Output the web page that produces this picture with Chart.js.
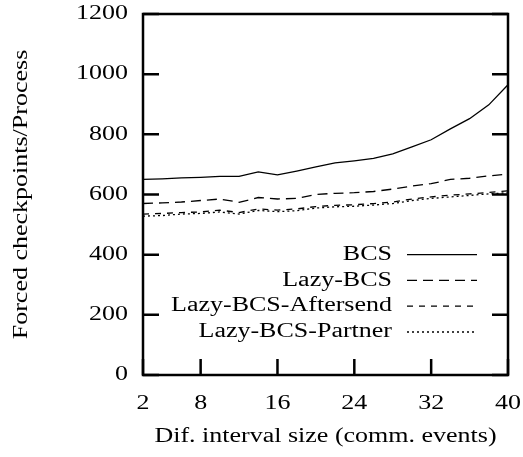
<!DOCTYPE html>
<html>
<head>
<meta charset="utf-8">
<script src="https://cdn.jsdelivr.net/npm/chart.js@4.4.1/dist/chart.umd.min.js"></script>
<style>
  html, body { margin: 0; padding: 0; background: #fff; }
  #wrap { width: 523px; height: 457px; }
</style>
</head>
<body>
<div id="wrap"><canvas id="c" width="523" height="457"></canvas></div>
<script>
// Interval sizes (communication events)
const intervals = [2, 4, 6, 8, 10, 12, 14, 16, 18, 20, 22, 24, 26, 28, 30, 32, 34, 36, 38, 40];
const xTickValues = [2, 8, 16, 24, 32, 40];
const yTickStep = 200;

// Forced checkpoints per process
const bcs       = [650, 652, 655, 657, 660, 660, 675, 665, 678, 692, 705, 712, 720, 735, 758, 782, 818, 852, 898, 965];
const lazyBcs   = [570, 572, 575, 580, 585, 574, 590, 585, 587, 600, 604, 606, 610, 618, 628, 636, 650, 654, 662, 668];
const aftersend = [535, 537, 540, 542, 548, 540, 552, 548, 552, 560, 564, 566, 570, 575, 585, 592, 598, 602, 607, 612];
const partner   = [528, 530, 535, 537, 542, 535, 547, 543, 546, 555, 559, 561, 565, 570, 580, 587, 592, 597, 602, 606];

const seriesNames = ['BCS', 'Lazy-BCS', 'Lazy-BCS-Aftersend', 'Lazy-BCS-Partner'];
const seriesValues = [bcs, lazyBcs, aftersend, partner];
const seriesDash = [[], [10, 6], [6, 6], [2, 3]];

const FONT = "'Liberation Serif', 'Times New Roman', serif";
const TEXT_STRETCH = 1.3;

// Wide serif lettering: every label is drawn horizontally stretched around its anchor.
const wideText = {
  id: 'wideText',
  beforeInit(chart) {
    const ctx = chart.ctx;
    ctx.fillText = function (text, x, y) {
      this.save();
      this.translate(x, y);
      this.scale(TEXT_STRETCH, 1);
      CanvasRenderingContext2D.prototype.fillText.call(this, text, 0, 0);
      this.restore();
    };
  }
};

// Frame, inward tick marks and the in-plot key.
const frameAndKey = {
  id: 'frameAndKey',
  afterDatasetsDraw(chart) {
    const {ctx, chartArea: a, scales} = chart;
    const tickLen = 16;
    ctx.save();
    ctx.strokeStyle = '#000';
    ctx.lineWidth = 2.5;
    ctx.lineCap = 'butt';
    ctx.beginPath();
    scales.y.ticks.forEach(t => {
      const py = scales.y.getPixelForValue(t.value);
      ctx.moveTo(a.left, py); ctx.lineTo(a.left + tickLen, py);
      ctx.moveTo(a.right, py); ctx.lineTo(a.right - tickLen, py);
    });
    scales.x.ticks.forEach(t => {
      const px = scales.x.getPixelForValue(t.value);
      ctx.moveTo(px, a.bottom); ctx.lineTo(px, a.bottom - tickLen);
    });
    ctx.stroke();
    ctx.lineJoin = 'miter';
    ctx.strokeRect(a.left, a.top, a.right - a.left, a.bottom - a.top);

    // key
    const rowGap = 25.8;
    const lastRowY = a.bottom - 43;
    const textRight = a.right - 116;
    const sampleStart = a.right - 101;
    const sampleEnd = a.right - 31;
    ctx.font = '20px ' + FONT;
    ctx.fillStyle = '#000';
    ctx.textAlign = 'right';
    ctx.textBaseline = 'middle';
    const n = chart.data.datasets.length;
    chart.data.datasets.forEach((ds, i) => {
      const y = lastRowY - (n - 1 - i) * rowGap;
      ctx.fillText(ds.label, textRight, y);
      ctx.save();
      ctx.lineWidth = 1.3;
      ctx.setLineDash(ds.borderDash);
      ctx.beginPath();
      ctx.moveTo(sampleStart, y);
      ctx.lineTo(sampleEnd, y);
      ctx.stroke();
      ctx.restore();
    });
    ctx.restore();
  }
};

Chart.defaults.font.family = FONT;
Chart.defaults.font.size = 20;
Chart.defaults.color = '#000';

new Chart(document.getElementById('c'), {
  type: 'line',
  data: {
    datasets: seriesNames.map((name, i) => ({
      label: name,
      data: intervals.map((x, j) => ({x, y: seriesValues[i][j]})),
      borderColor: '#000',
      borderWidth: 1.3,
      borderDash: seriesDash[i],
      pointRadius: 0,
      tension: 0,
      fill: false
    }))
  },
  options: {
    responsive: false,
    animation: false,
    events: [],
    layout: { padding: { left: 0, right: 15, top: 14, bottom: 0 } },
    plugins: { legend: { display: false }, tooltip: { enabled: false } },
    scales: {
      x: {
        type: 'linear',
        min: intervals[0],
        max: intervals[intervals.length - 1],
        grid: { display: false, drawTicks: false },
        border: { display: false },
        afterBuildTicks(scale) { scale.ticks = xTickValues.map(v => ({value: v})); },
        afterFit(scale) {
          scale.height = 82;
          scale.paddingLeft = 0; scale.paddingRight = 0;
        },
        ticks: { padding: 17, autoSkip: false, maxRotation: 0, font: { size: 20 }, callback: v => String(v) },
        title: {
          display: true,
          text: 'Dif. interval size (comm. events)',
          font: { size: 20 },
          padding: { top: 0, bottom: 8 }
        }
      },
      y: {
        min: 0,
        max: 1200,
        grid: { display: false, drawTicks: false },
        border: { display: false },
        afterFit(scale) {
          scale.width = 143;
          scale.paddingTop = 0; scale.paddingBottom = 0;
        },
        ticks: { stepSize: yTickStep, padding: 15, font: { size: 20 }, callback: v => String(v) },
        title: {
          display: true,
          text: 'Forced checkpoints/Process',
          font: { size: 20 },
          padding: { top: 10, bottom: 0 }
        }
      }
    }
  },
  plugins: [wideText, frameAndKey]
});
</script>
</body>
</html>
